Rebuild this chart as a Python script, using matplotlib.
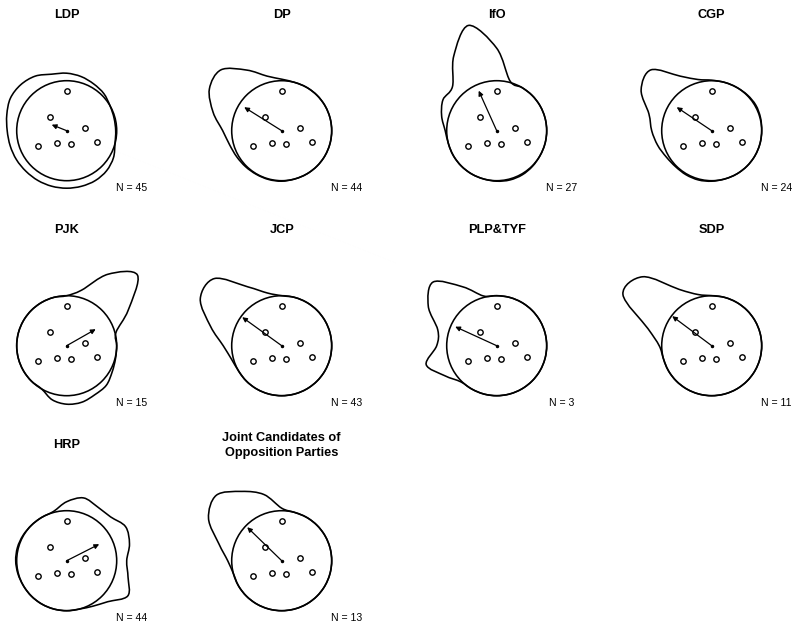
import numpy as np
import matplotlib
matplotlib.use("Agg")
import matplotlib.pyplot as plt
from matplotlib.path import Path
from matplotlib.patches import PathPatch, Circle

plt.rcParams['font.family'] = ['Liberation Sans', 'DejaVu Sans']

# ---- data ----
parties = ["LDP", "DP", "IfO", "CGP", "PJK", "JCP", "PLP&TYF", "SDP", "HRP",
           "Joint Candidates of\nOpposition Parties"]
n_obs = [45, 44, 27, 24, 15, 43, 3, 11, 44, 13]

# reference points (shared by all panels)
point_x = [0.0, -0.33, 0.37, -0.58, -0.20, 0.09, 0.60]
point_y = [0.79, 0.27, 0.06, -0.31, -0.25, -0.27, -0.23]

# mean direction arrows
arrow_x = [-0.30, -0.75, -0.36, -0.70, 0.58, -0.79, -0.83, -0.79, 0.65, -0.69]
arrow_y = [0.12, 0.47, 0.80, 0.47, 0.33, 0.57, 0.38, 0.59, 0.33, 0.67]

# radial density outline (radius, circle = 1) at angles 0,15,...,345 degrees
density_angles = list(range(0, 360, 15))
r_ldp = [0.98, 0.98, 1.0, 1.05, 1.08, 1.12, 1.15, 1.17, 1.26, 1.3, 1.3, 1.24,
         1.19, 1.17, 1.16, 1.15, 1.15, 1.15, 1.15, 1.15, 1.15, 1.13, 1.08, 1.0]
r_dp = [1.0, 1.0, 1.0, 1.0, 1.0, 1.0, 1.03, 1.13, 1.4, 1.72, 1.67, 1.42,
        1.18, 1.08, 1.04, 1.02, 1.01, 1.01, 1.01, 1.0, 1.0, 1.0, 1.0, 1.0]
r_ifo = [1.0, 1.0, 1.0, 1.0, 1.0, 1.03, 1.65, 2.18, 1.72, 1.25, 1.24, 1.14,
         1.03, 1.0, 1.0, 1.0, 1.0, 1.0, 1.01, 1.02, 1.02, 1.01, 1.0, 1.0]
r_cgp = [1.0, 1.01, 1.02, 1.01, 1.0, 1.0, 1.01, 1.06, 1.26, 1.72, 1.63, 1.3,
         1.2, 1.12, 1.05, 1.02, 1.02, 1.02, 1.01, 1.0, 1.0, 1.0, 1.0, 1.0]
r_pjk = [1.0, 1.02, 1.42, 2.0, 1.65, 1.15, 1.0, 1.0, 1.0, 1.0, 1.0, 1.0,
         1.0, 1.0, 1.0, 1.0, 1.0, 1.12, 1.17, 1.17, 1.13, 1.12, 1.05, 1.01]
r_jcp = [1.0, 1.0, 1.0, 1.0, 1.0, 1.0, 1.0, 1.09, 1.36, 1.9, 1.88, 1.47,
         1.17, 1.04, 1.0, 1.0, 1.0, 1.0, 1.0, 1.0, 1.0, 1.0, 1.0, 1.0]
r_plp = [1.0, 1.0, 1.0, 1.0, 1.0, 1.0, 1.0, 1.03, 1.36, 1.8, 1.58, 1.22,
         1.2, 1.46, 1.2, 1.02, 1.0, 1.0, 1.0, 1.0, 1.0, 1.0, 1.0, 1.0]
r_sdp = [1.0, 1.0, 1.0, 1.0, 1.0, 1.0, 1.0, 1.06, 1.3, 1.95, 2.05, 1.32,
         1.05, 1.0, 1.0, 1.0, 1.0, 1.0, 1.0, 1.0, 1.0, 1.0, 1.0, 1.0]
r_hrp = [1.2, 1.3, 1.36, 1.24, 1.24, 1.3, 1.18, 1.02, 1.0, 1.0, 1.01, 1.02,
         1.02, 1.01, 1.0, 1.0, 1.0, 1.0, 1.0, 1.0, 1.05, 1.16, 1.41, 1.27]
r_joint = [1.0, 1.0, 1.0, 1.0, 1.0, 1.0, 1.05, 1.37, 1.6, 1.85, 1.69, 1.3,
           1.08, 1.0, 1.0, 1.0, 1.0, 1.0, 1.0, 1.0, 1.0, 1.0, 1.0, 1.0]
radii = [r_ldp, r_dp, r_ifo, r_cgp, r_pjk, r_jcp, r_plp, r_sdp, r_hrp, r_joint]


def closed_smooth_path(r, angles_deg):
    th = np.deg2rad(np.asarray(angles_deg, float))
    r = np.asarray(r, float)
    P = np.column_stack([r * np.cos(th), r * np.sin(th)])
    n = len(P)
    verts = [P[0]]
    codes = [Path.MOVETO]
    for i in range(n):
        p0, p1, p2, p3 = P[i - 1], P[i], P[(i + 1) % n], P[(i + 2) % n]
        verts += [p1 + (p2 - p0) / 6.0, p2 - (p3 - p1) / 6.0, p2]
        codes += [Path.CURVE4] * 3
    verts.append(P[0])
    codes.append(Path.CLOSEPOLY)
    return Path(verts, codes)


W, H = 793, 627
fig = plt.figure(figsize=(W / 100, H / 100), dpi=100)
half = 75.0  # px, = 1.5 units
for k, name in enumerate(parties):
    row, col = divmod(k, 4)
    cx = 66.7 + 215 * col
    cy = 130.7 + 215 * row
    ax = fig.add_axes([(cx - half) / W, 1 - (cy + half) / H, 2 * half / W, 2 * half / H])
    ax.set_xlim(-1.5, 1.5)
    ax.set_ylim(-1.5, 1.5)
    ax.axis('off')

    ax.add_patch(Circle((0, 0), 1.0, fill=False, lw=1.15, ec='black', clip_on=False))
    ax.add_patch(PathPatch(closed_smooth_path(radii[k], density_angles), fill=False,
                           lw=1.15, ec='black', clip_on=False))
    ax.scatter(point_x, point_y, s=15, facecolors='white', edgecolors='black',
               linewidths=1.0, zorder=3, clip_on=False)
    ax.annotate('', xy=(arrow_x[k], arrow_y[k]), xytext=(0, 0),
                arrowprops=dict(arrowstyle='-|>', lw=0.9, color='black',
                                mutation_scale=7, shrinkA=0, shrinkB=0),
                annotation_clip=False, zorder=4)
    ax.plot([0], [0], 'o', ms=1.5, color='black', zorder=5, clip_on=False)
    ax.text(0, 2.31, name, ha='center', va='center', fontsize=9.2,
            fontweight='bold', linespacing=1.35, clip_on=False)
    ax.text(1.29, -1.15, f"N = {n_obs[k]}", ha='center', va='center',
            fontsize=7.6, clip_on=False)

fig.savefig("out.png", dpi=100, facecolor='white')
